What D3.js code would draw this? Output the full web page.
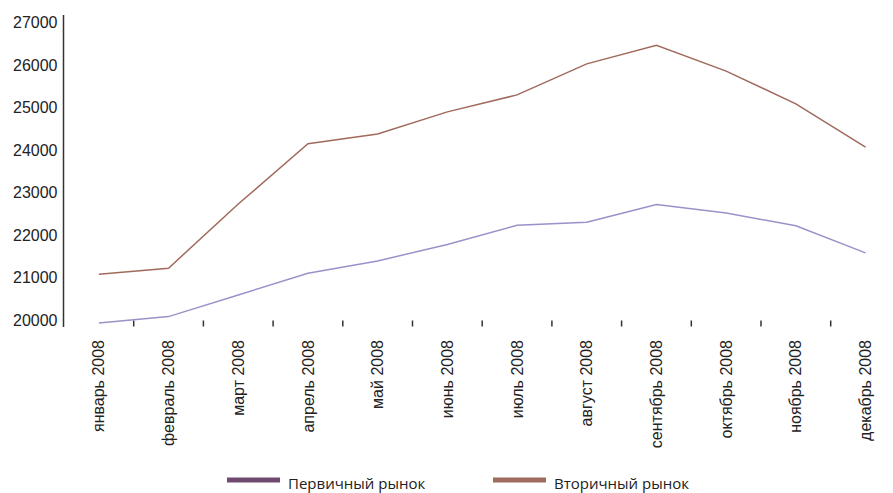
<!DOCTYPE html>
<html>
<head>
<meta charset="utf-8">
<script src="https://cdn.jsdelivr.net/npm/d3@7"></script>
<style>
  html, body { margin: 0; padding: 0; background: #fff; }
  svg { display: block; }
</style>
</head>
<body>
<svg id="chart" width="893" height="493"></svg>
<script>
const categories = ["январь 2008","февраль 2008","март 2008","апрель 2008","май 2008","июнь 2008","июль 2008","август 2008","сентябрь 2008","октябрь 2008","ноябрь 2008","декабрь 2008"];
const primaryMarket = [19930, 20080, 20590, 21100, 21390, 21780, 22230, 22300, 22720, 22520, 22220, 21580];
const secondaryMarket = [21080, 21220, 22730, 24150, 24380, 24900, 25300, 26030, 26470, 25860, 25090, 24070];
const yTicks = [20000, 21000, 22000, 23000, 24000, 25000, 26000, 27000];
const seriesNames = ["Первичный рынок", "Вторичный рынок"];
const lineColors = ["#9d90c9", "#a06a5c"];
const legendColors = ["#6f4a6e", "#9e6b5e"];

const svg = d3.select("#chart");

const x = d3.scaleBand().domain(categories).range([64, 64 + 69.7 * 12]).padding(0);
const y = d3.scaleLinear().domain([20000, 27000]).range([320, 22.7]);

// Y axis
const yAxis = d3.axisLeft(y).tickValues(yTicks).tickSize(0).tickPadding(6).tickFormat(d3.format("d"));
const gy = svg.append("g").attr("transform", "translate(63.5,0)").call(yAxis);
gy.select(".domain").remove();
gy.selectAll("text")
  .attr("font-family", "'Liberation Sans', Arial, sans-serif")
  .attr("font-size", 16)
  .attr("fill", "#222");
svg.append("line")
  .attr("x1", 63.5).attr("x2", 63.5)
  .attr("y1", 15).attr("y2", 327)
  .attr("stroke", "#333").attr("stroke-width", 1.5);

// X ticks between categories
svg.append("g").selectAll("line")
  .data(categories.slice(0, -1))
  .join("line")
  .attr("x1", d => x(d) + x.bandwidth())
  .attr("x2", d => x(d) + x.bandwidth())
  .attr("y1", 320.5).attr("y2", 326.5)
  .attr("stroke", "#333").attr("stroke-width", 1.5);

// X axis labels
const xAxis = d3.axisBottom(x).tickSize(0).tickPadding(0);
const gx = svg.append("g").attr("transform", "translate(0,340)").call(xAxis);
gx.select(".domain").remove();
gx.selectAll("text")
  .attr("font-family", "'Liberation Sans', Arial, sans-serif")
  .attr("font-size", 16)
  .attr("fill", "#222")
  .attr("text-anchor", "end")
  .attr("y", 0)
  .attr("x", 0)
  .attr("dy", "0.35em")
  .attr("transform", "rotate(-90)");

// Lines
const line = d3.line()
  .x((d, i) => x(categories[i]) + x.bandwidth() / 2)
  .y(d => y(d));

[primaryMarket, secondaryMarket].forEach((s, k) => {
  svg.append("path")
    .datum(s)
    .attr("d", line)
    .attr("fill", "none")
    .attr("stroke", lineColors[k])
    .attr("stroke-width", 1.5)
    .attr("stroke-linejoin", "miter");
});

// Legend
const legendX = [227, 493];
const lg = svg.append("g");
seriesNames.forEach((name, k) => {
  lg.append("rect")
    .attr("x", legendX[k]).attr("y", 477.5)
    .attr("width", 53).attr("height", 5)
    .attr("fill", legendColors[k]);
  lg.append("text")
    .attr("x", legendX[k] + 61).attr("y", 488.5)
    .attr("font-family", "'Open Sans', 'Noto Sans', sans-serif")
    .attr("font-size", 15)
    .attr("fill", "#222")
    .text(name);
});
</script>
</body>
</html>
